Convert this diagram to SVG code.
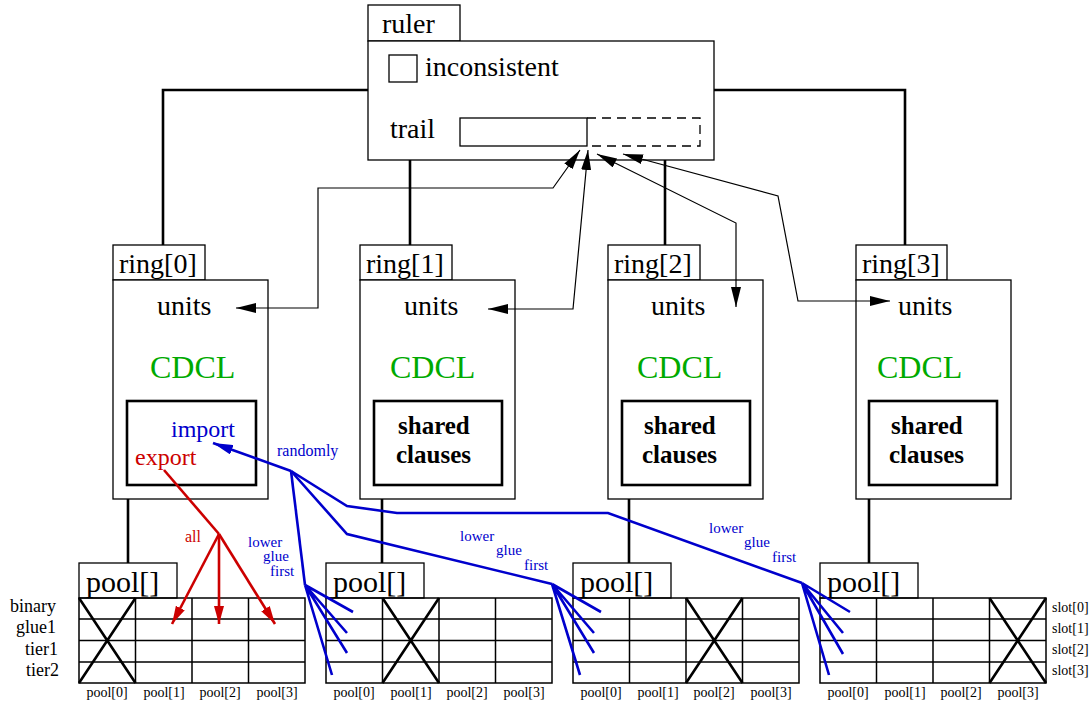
<svg xmlns="http://www.w3.org/2000/svg" width="1092" height="704" viewBox="0 0 1092 704" font-family="'Liberation Serif', 'Times New Roman', 'DejaVu Serif', serif">
<style>
text{font-family:"Liberation Serif","Times New Roman","DejaVu Serif",serif;fill:#000}
.box{fill:#fff;stroke:#000;stroke-width:1.3}
.inner{fill:none;stroke:#000;stroke-width:2.6}
.thick{fill:none;stroke:#000;stroke-width:2.6}
.thin{fill:none;stroke:#000;stroke-width:1.2}
.grid{fill:none;stroke:#000;stroke-width:1.5}
.blue{fill:none;stroke:#0000cc;stroke-width:2.6}
.red{fill:none;stroke:#cc0000;stroke-width:2.6}
.t28{font-size:28px}
.t30{font-size:30px}
.cdcl{font-size:32px;fill:#00aa00}
.sh{font-size:25px;font-weight:bold}
.small{font-size:14px}
.row{font-size:18px}
.bl{font-size:15px;fill:#0000cc}
</style>
<defs>
<marker id="ab" viewBox="0 0 20 10" refX="20" refY="5" markerWidth="20" markerHeight="10" markerUnits="userSpaceOnUse" orient="auto-start-reverse"><path d="M0,0 L20,5 L0,10 z" fill="#000"/></marker>
<marker id="ar" viewBox="0 0 18 10" refX="18" refY="5" markerWidth="18" markerHeight="10" markerUnits="userSpaceOnUse" orient="auto"><path d="M0,0 L18,5 L0,10 z" fill="#cc0000"/></marker>
<marker id="au" viewBox="0 0 20 10" refX="20" refY="5" markerWidth="20" markerHeight="10" markerUnits="userSpaceOnUse" orient="auto"><path d="M0,0 L20,5 L0,10 z" fill="#0000cc"/></marker>
</defs>

<g id="structure-links">
<polyline class="thick" points="368,90 163,90 163,245"/>
<polyline class="thick" points="714,90 905,90 905,245"/>
<line class="thick" x1="410" y1="160" x2="410" y2="245"/>
<line class="thick" x1="665" y1="160" x2="665" y2="245"/>
<line class="thick" x1="128" y1="499" x2="128" y2="563"/>
<line class="thick" x1="382" y1="499" x2="382" y2="563"/>
<line class="thick" x1="629" y1="499" x2="629" y2="563"/>
<line class="thick" x1="869" y1="499" x2="869" y2="563"/>
</g>

<g id="ruler">
<rect class="box" x="368" y="5" width="92" height="36"/>
<text class="t28" x="382" y="33">ruler</text>
<rect class="box" x="368" y="41" width="346" height="119"/>
<rect class="box" x="389" y="55" width="28" height="27"/>
<text class="t28" x="425" y="76">inconsistent</text>
<text class="t28" x="390" y="138">trail</text>
<rect class="box" x="460" y="118" width="127" height="28"/>
<polyline points="587,118 700,118 700,146 587,146" fill="none" stroke="#000" stroke-width="1.3" stroke-dasharray="9,6"/>
</g>

<g id="ring0">
<rect class="box" x="113" y="245" width="92" height="35"/>
<text class="t28" x="119" y="273">ring[0]</text>
<rect class="box" x="113" y="280" width="155" height="219"/>
<text class="t28" x="157" y="315">units</text>
<text class="cdcl" x="150" y="378">CDCL</text>
<rect class="inner" x="127" y="401" width="129" height="84"/>
<text x="171" y="437" style="font-size:24px;fill:#0000cc">import</text>
<text x="135" y="465" style="font-size:24px;fill:#cc0000">export</text>
</g>

<g id="ring1">
<rect class="box" x="360" y="245" width="92" height="35"/>
<text class="t28" x="366" y="273">ring[1]</text>
<rect class="box" x="360" y="280" width="155" height="219"/>
<text class="t28" x="404" y="315">units</text>
<text class="cdcl" x="390" y="378">CDCL</text>
<rect class="inner" x="374" y="401" width="128" height="84"/>
<text class="sh" x="398" y="434">shared</text>
<text class="sh" x="396" y="463">clauses</text>
</g>

<g id="ring2">
<rect class="box" x="608" y="245" width="92" height="35"/>
<text class="t28" x="614" y="273">ring[2]</text>
<rect class="box" x="608" y="280" width="155" height="219"/>
<text class="t28" x="651" y="315">units</text>
<text class="cdcl" x="637" y="378">CDCL</text>
<rect class="inner" x="622" y="401" width="128" height="84"/>
<text class="sh" x="644" y="434">shared</text>
<text class="sh" x="642" y="463">clauses</text>
</g>

<g id="ring3">
<rect class="box" x="856" y="245" width="91" height="35"/>
<text class="t28" x="862" y="273">ring[3]</text>
<rect class="box" x="856" y="280" width="155" height="219"/>
<text class="t28" x="898" y="315">units</text>
<text class="cdcl" x="877" y="378">CDCL</text>
<rect class="inner" x="869" y="401" width="128" height="84"/>
<text class="sh" x="891" y="434">shared</text>
<text class="sh" x="889" y="463">clauses</text>
</g>

<g id="pool0">
<rect class="box" x="79" y="563" width="98" height="35"/>
<text class="t30" x="86" y="592">pool[]</text>
<rect class="grid" x="79" y="598" width="226" height="85"/>
<path class="grid" d="M79,619H305M79,640.5H305M79,662H305M135.5,598V683M192,598V683M248.5,598V683"/>
<path class="thick" d="M79,598L135.5,683M135.5,598L79,683"/>
<text class="small" x="107" y="697" text-anchor="middle">pool[0]</text>
<text class="small" x="164" y="697" text-anchor="middle">pool[1]</text>
<text class="small" x="220" y="697" text-anchor="middle">pool[2]</text>
<text class="small" x="277" y="697" text-anchor="middle">pool[3]</text>
<text class="row" x="56" y="612" text-anchor="end">binary</text>
<text class="row" x="56" y="633" text-anchor="end">glue1</text>
<text class="row" x="58" y="655" text-anchor="end">tier1</text>
<text class="row" x="59" y="676" text-anchor="end">tier2</text>
</g>

<g id="pool1">
<rect class="box" x="326" y="563" width="98" height="35"/>
<text class="t30" x="333" y="592">pool[]</text>
<rect class="grid" x="326" y="598" width="226" height="85"/>
<path class="grid" d="M326,619H552M326,640.5H552M326,662H552M382.5,598V683M439,598V683M495.5,598V683"/>
<path class="thick" d="M382.5,598L439,683M439,598L382.5,683"/>
<text class="small" x="354" y="697" text-anchor="middle">pool[0]</text>
<text class="small" x="411" y="697" text-anchor="middle">pool[1]</text>
<text class="small" x="467" y="697" text-anchor="middle">pool[2]</text>
<text class="small" x="524" y="697" text-anchor="middle">pool[3]</text>
</g>

<g id="pool2">
<rect class="box" x="573" y="563" width="98" height="35"/>
<text class="t30" x="580" y="592">pool[]</text>
<rect class="grid" x="573" y="598" width="226" height="85"/>
<path class="grid" d="M573,619H799M573,640.5H799M573,662H799M629.5,598V683M686,598V683M742.5,598V683"/>
<path class="thick" d="M686,598L742.5,683M742.5,598L686,683"/>
<text class="small" x="601" y="697" text-anchor="middle">pool[0]</text>
<text class="small" x="658" y="697" text-anchor="middle">pool[1]</text>
<text class="small" x="714" y="697" text-anchor="middle">pool[2]</text>
<text class="small" x="771" y="697" text-anchor="middle">pool[3]</text>
</g>

<g id="pool3">
<rect class="box" x="820" y="563" width="98" height="35"/>
<text class="t30" x="827" y="592">pool[]</text>
<rect class="grid" x="820" y="598" width="226" height="85"/>
<path class="grid" d="M820,619H1046M820,640.5H1046M820,662H1046M876.5,598V683M933,598V683M989.5,598V683"/>
<path class="thick" d="M989.5,598L1046,683M1046,598L989.5,683"/>
<text class="small" x="848" y="697" text-anchor="middle">pool[0]</text>
<text class="small" x="905" y="697" text-anchor="middle">pool[1]</text>
<text class="small" x="961" y="697" text-anchor="middle">pool[2]</text>
<text class="small" x="1018" y="697" text-anchor="middle">pool[3]</text>
<text class="small" x="1052" y="612">slot[0]</text>
<text class="small" x="1052" y="633">slot[1]</text>
<text class="small" x="1052" y="654">slot[2]</text>
<text class="small" x="1052" y="675">slot[3]</text>
</g>

<g id="connectors">
<polyline class="thin" points="236,308 318,308 318,188 553,188 580,150" marker-start="url(#ab)" marker-end="url(#ab)"/>
<polyline class="thin" points="488,309 573,309 588,150" marker-start="url(#ab)" marker-end="url(#ab)"/>
<polyline class="thin" points="597,154 736,223 736,307" marker-start="url(#ab)" marker-end="url(#ab)"/>
<polyline class="thin" points="623,154 778,196 798,301 890,301" marker-start="url(#ab)" marker-end="url(#ab)"/>

<line class="red" x1="164" y1="470" x2="219" y2="534"/>
<line class="red" x1="219" y1="534" x2="172" y2="624" marker-end="url(#ar)"/>
<line class="red" x1="219" y1="534" x2="219" y2="624" marker-end="url(#ar)"/>
<line class="red" x1="219" y1="534" x2="275" y2="624" marker-end="url(#ar)"/>
<text x="185" y="542" style="font-size:16px;fill:#cc0000">all</text>

<line class="blue" x1="291" y1="471" x2="213" y2="443" marker-end="url(#au)"/>
<text class="bl" x="277" y="456" style="font-size:16px">randomly</text>
<polyline class="blue" points="291,471 305,585"/>
<polyline class="blue" points="291,471 347,534 552,584"/>
<polyline class="blue" points="291,471 347,506 397,513 608,513 802,583"/>
<path class="blue" d="M305,585L353,612M305,585L347,633M305,585L347,653M305,585L332,675"/>
<path class="blue" d="M552,584L601,612M552,584L594,633M552,584L594,653M552,584L580,675"/>
<path class="blue" d="M802,583L850,612M802,583L843,633M802,583L843,654M802,583L829,675"/>
<text class="bl" x="248" y="547">lower</text>
<text class="bl" x="263" y="561">glue</text>
<text class="bl" x="270" y="576">first</text>
<text class="bl" x="460" y="541">lower</text>
<text class="bl" x="496" y="555">glue</text>
<text class="bl" x="524" y="570">first</text>
<text class="bl" x="709" y="533">lower</text>
<text class="bl" x="744" y="547">glue</text>
<text class="bl" x="772" y="562">first</text>
</g>
</svg>
